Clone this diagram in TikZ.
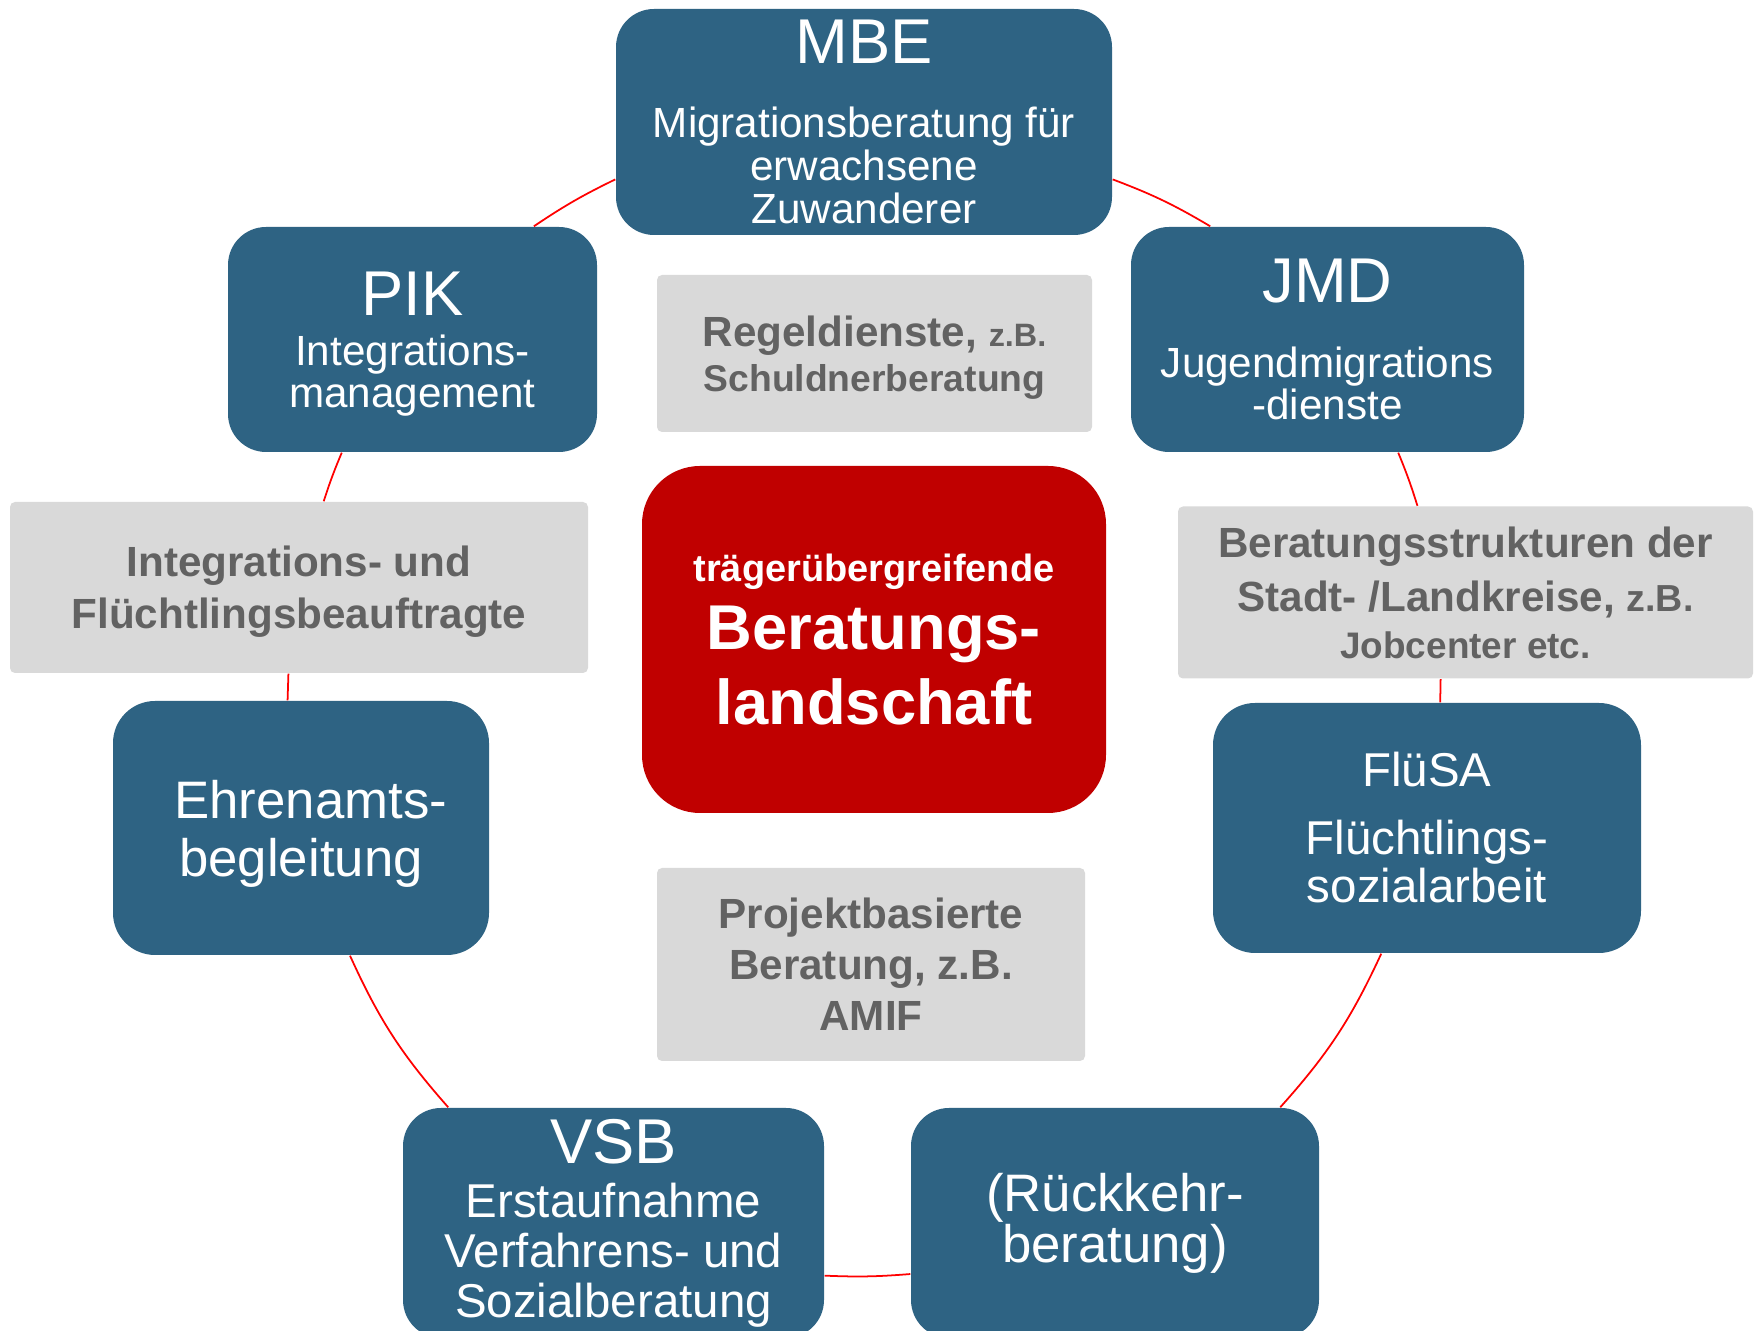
\documentclass[tikz,border=0pt]{standalone}
\usepackage{fontspec}
\setmainfont{Liberation Sans}
\definecolor{boxblue}{RGB}{46,99,131}
\definecolor{centerred}{RGB}{192,0,0}
\definecolor{boxgray}{RGB}{217,217,217}
\definecolor{labelgray}{RGB}{98,98,98}
\newcommand{\fs}[2]{\fontsize{#1}{#2}\selectfont}
\tikzset{
  area/.style 2 args={minimum width=#1*0.01cm, minimum height=#2*0.01cm},
  service/.style={rectangle, rounded corners=0.38cm, fill=boxblue, text=white, align=center, inner sep=0pt},
  structure/.style={rectangle, rounded corners=0.05cm, fill=boxgray, text=labelgray, align=center, inner sep=0pt},
  ring/.style={red, line width=0.5pt},
}
\begin{document}
\begin{tikzpicture}[x=0.01cm, y=-0.01cm]
  \useasboundingbox (0,0) rectangle (1756,1331);
  % services round the ring
  \node[service, area={496}{226}, font=\fs{12pt}{12.2pt}] (mbe) at (864,122)
    {{\fs{18pt}{18pt}MBE}\\[8.8pt]Migrationsberatung für\\erwachsene\\Zuwanderer};
  \node[service, area={369}{225}, text depth=0pt, font=\fs{12pt}{12pt}] (pik) at (412.5,339.5)
    {{\fs{18pt}{18pt}PIK}\\[2.2pt]Integrations-\\management};
  \node[service, area={393}{225}, font=\fs{12pt}{12.2pt}] (jmd) at (1327.5,339.5)
    {{\fs{18pt}{18pt}JMD}\\[9.1pt]Jugendmigrations\\-dienste};
  \node[service, area={376}{254}, rounded corners=0.42cm, text depth=0pt, font=\fs{15pt}{16.5pt}] (ehren) at (301,828)
    {\hspace*{5.5pt}Ehrenamts-\\begleitung};
  \node[service, area={428}{250}, rounded corners=0.42cm, font=\fs{13.5pt}{13.7pt}] (flusa) at (1427,828)
    {FlüSA\\[5.6pt]Flüchtlings-\\sozialarbeit};
  \node[service, area={421}{230}, font=\fs{13.5pt}{14.2pt}] (vsb) at (613.5,1223)
    {{\fs{18pt}{18pt}VSB}\\[1.2pt]Erstaufnahme\\Verfahrens- und\\Sozialberatung};
  \node[service, area={408}{230}, font=\fs{15pt}{14.5pt}] (rueck) at (1115,1223)
    {(Rückkehr-\\beratung)};
  % grey structures
  \node[structure, area={435}{157}, text depth=0pt, font=\bfseries\fs{12pt}{12.8pt}] (regel) at (874.5,353.5)
    {Regeldienste, {\fs{9.2pt}{9.2pt}z.B.}\\{\fs{10.6pt}{10.6pt}Schuldnerberatung}};
  \node[structure, area={578}{171}, text depth=0pt, font=\bfseries\fs{12pt}{14.8pt}] (intbox) at (299,587.5)
    {Integrations- und\\Flüchtlingsbeauftragte};
  \node[structure, area={575}{172}, font=\bfseries\fs{12pt}{15.6pt}] (beratbox) at (1465.5,592.5)
    {Beratungsstrukturen der\\Stadt- /Landkreise, {\fs{10.7pt}{10.7pt}z.B.}\\[-2.5pt]{\fs{10.5pt}{10.5pt}Jobcenter etc.}};
  \node[structure, area={428}{193}, font=\bfseries\fs{12pt}{14.5pt}] (projekt) at (871,964.5)
    {Projektbasierte\\Beratung, z.B.\\AMIF};
  % centre
  \node[service, fill=centerred, area={464}{347}, rounded corners=0.58cm, font=\bfseries\fs{18pt}{21.3pt}] (center) at (874,639.5)
    {{\fs{10.8pt}{10.8pt}trägerübergreifende}\\[-1.7pt]Beratungs-\\landschaft};
  \foreach \src/\dst/\b in {mbe.193/pik.43/-4, mbe.-13/jmd.136/5, pik.238/intbox.74/-2.5,
      intbox.263/ehren.96/0, ehren.-69/vsb.145/-8.5, vsb.-14/rueck.194/-3.5,
      rueck.35/flusa.250/-8.5, flusa.84/beratbox.254/0, beratbox.119/jmd.-58/-2.5} {
    \draw[ring] (\src) to[bend left=\b] (\dst);
  }
\end{tikzpicture}
\end{document}
